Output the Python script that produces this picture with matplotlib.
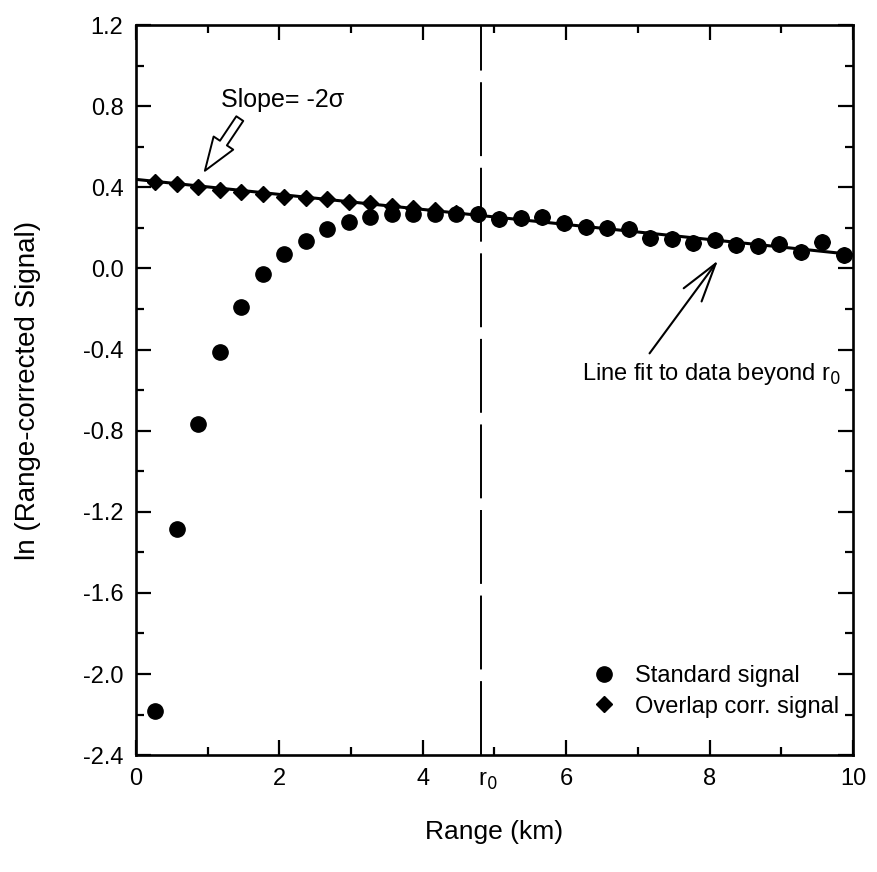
import numpy as np
import matplotlib
matplotlib.use("Agg")
import matplotlib.pyplot as plt
from matplotlib.lines import Line2D

plt.rcParams['font.family'] = ['Liberation Sans', 'DejaVu Sans']

# ---- data ----
range_km = [0.27, 0.57, 0.87, 1.17, 1.47, 1.77, 2.07, 2.37, 2.67, 2.97, 3.27,
            3.57, 3.87, 4.17, 4.47, 4.77, 5.07, 5.37, 5.67, 5.97, 6.27, 6.57,
            6.87, 7.17, 7.47, 7.77, 8.07, 8.37, 8.67, 8.97, 9.27, 9.57, 9.87]
standard_signal = [-2.18, -1.285, -0.765, -0.41, -0.19, -0.027, 0.072, 0.135,
                   0.195, 0.23, 0.253, 0.27, 0.27, 0.27, 0.266, 0.266, 0.244,
                   0.248, 0.253, 0.222, 0.205, 0.2, 0.194, 0.151, 0.147, 0.126,
                   0.139, 0.116, 0.108, 0.122, 0.083, 0.131, 0.066]
overlap_corr_signal = [0.428, 0.418, 0.402, 0.387, 0.377, 0.369, 0.352, 0.346,
                       0.341, 0.328, 0.324, 0.31, 0.30, 0.29, 0.275, 0.266,
                       0.244, 0.248, 0.253, 0.222, 0.205, 0.2, 0.194, 0.151,
                       0.147, 0.126, 0.139, 0.116, 0.108, 0.122, 0.083, 0.131,
                       0.066]
r0 = 4.81
x_ticks = [0, 2, 4, 6, 8, 10]
y_ticks = [1.2, 0.8, 0.4, 0.0, -0.4, -0.8, -1.2, -1.6, -2.0, -2.4]

# ---- figure ----
fig = plt.figure(figsize=(8.77, 8.72), dpi=100)
ax = fig.add_axes([0.155, 0.134, 0.8176, 0.8373])

x = np.array(range_km)
s = np.array(standard_signal)
mask = x > r0
coef = np.polyfit(x[mask], s[mask], 1)
xf = np.array([0.0, 10.0])
ax.plot(xf, np.polyval(coef, xf), color='black', lw=2.2, zorder=2)

ax.plot(range_km, overlap_corr_signal, linestyle='none', marker='D',
        markersize=8, color='black', zorder=3)
ax.plot(range_km, standard_signal, linestyle='none', marker='o',
        markersize=11, color='black', zorder=4)

ax.axvline(r0, color='black', lw=1.4, dashes=(38, 6), zorder=1)

ax.set_xlim(0, 10)
ax.set_ylim(-2.4, 1.2)
ax.set_xticks(x_ticks)
ax.set_xticks([1, 3, 5, 7, 9], minor=True)
ax.set_yticks(y_ticks)
ax.set_yticks(np.arange(-2.2, 1.2, 0.4), minor=True)
ax.set_yticklabels([f"{v:.1f}" for v in y_ticks])
ax.tick_params(which='both', direction='in', top=True, right=True,
               labelsize=17, width=1.6)
ax.tick_params(axis='x', pad=9)
ax.tick_params(axis='y', pad=9)
ax.tick_params(which='major', length=11)
ax.tick_params(which='minor', length=5.5)
for sp in ax.spines.values():
    sp.set_linewidth(1.9)

t = ax.text(r0 + 0.1, -2.4, r"r$_0$", ha='center', va='top', fontsize=17)
t.set_y(-2.47)

ax.set_xlabel("Range (km)", fontsize=19, labelpad=22)
ax.set_ylabel("ln (Range-corrected Signal)", fontsize=20, labelpad=30)

# annotations
ax.text(2.05, 0.83, "Slope= -2σ", fontsize=18, ha='center', va='center')
ax.annotate("", xy=(0.94, 0.47), xytext=(1.47, 0.75),
            arrowprops=dict(arrowstyle='simple,head_length=1.2,head_width=0.85,tail_width=0.3',
                            fc='white', ec='black', lw=1.4, mutation_scale=20))
ax.text(8.03, -0.52, r"Line fit to data beyond r$_0$", fontsize=17,
        ha='center', va='center')
ax.annotate("", xy=(8.14, 0.05), xytext=(7.14, -0.43),
            arrowprops=dict(arrowstyle='->,head_length=1.4,head_width=0.4',
                            color='black', lw=1.5, mutation_scale=20))

handles = [Line2D([], [], ls='none', marker='o', markersize=11, color='black'),
           Line2D([], [], ls='none', marker='D', markersize=8, color='black')]
ax.legend(handles, ["Standard signal", "Overlap corr. signal"],
          loc='lower right', bbox_to_anchor=(1.0, 0.032), frameon=False,
          fontsize=17, handletextpad=0.8, borderpad=0.1, labelspacing=0.35,
          handlelength=1.0)

fig.savefig("out.png", dpi=100)
